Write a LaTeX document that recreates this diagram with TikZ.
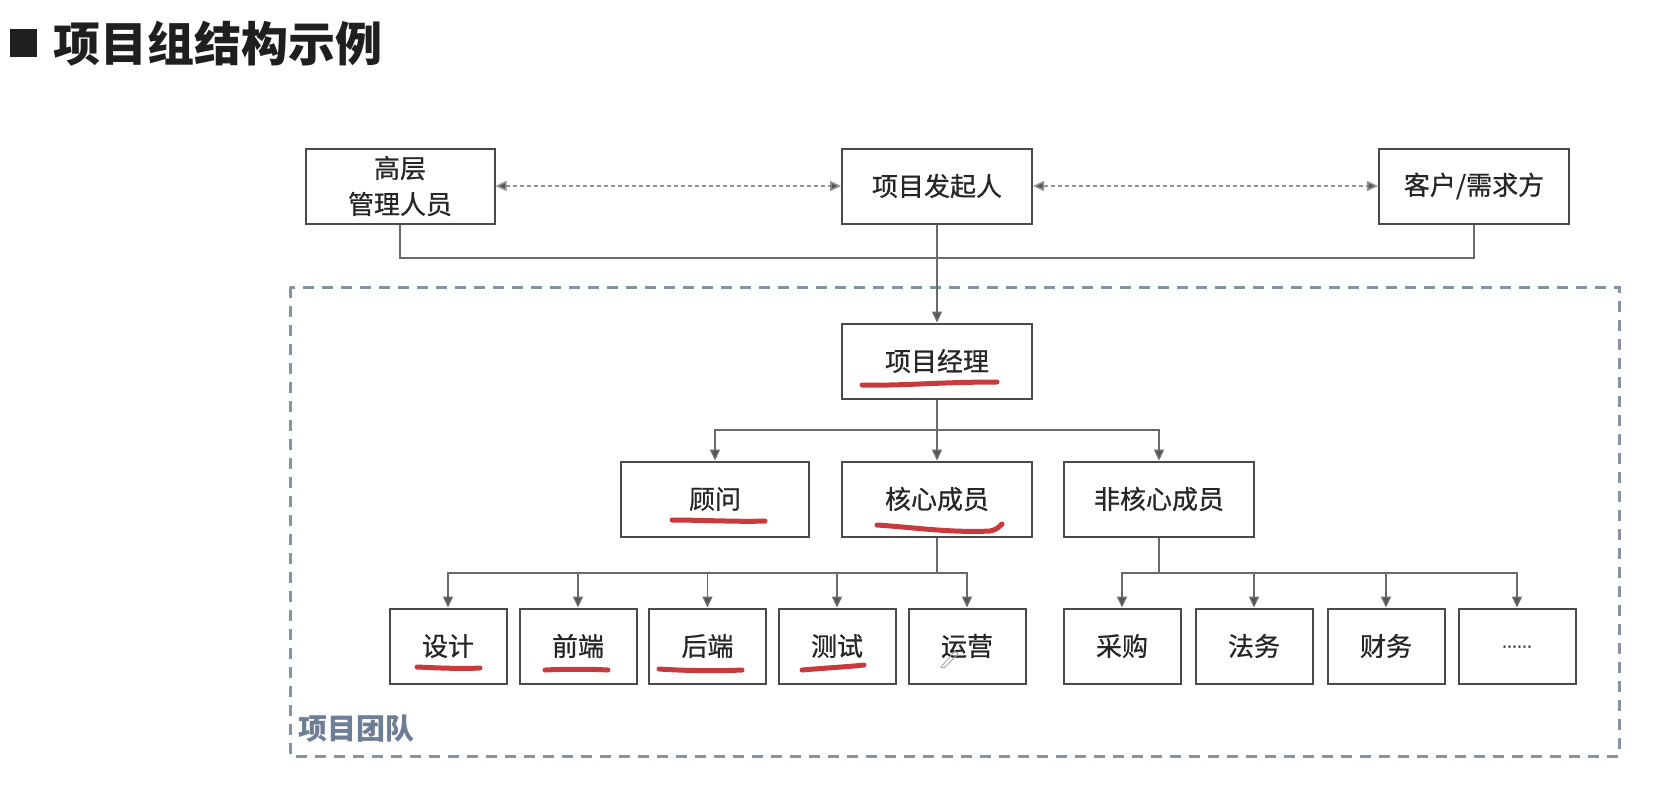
\documentclass[tikz,border=0pt]{standalone}
\usepackage{fontspec}
\setmainfont{Noto Sans CJK SC}
\newfontfamily\boxfont[FakeBold=0.7]{Noto Sans CJK SC}
\newfontfamily\latinf[FakeBold=0.8]{Liberation Sans}
\usetikzlibrary{arrows.meta}
\definecolor{boxline}{HTML}{4A4A4A}
\definecolor{connc}{HTML}{6A6A6A}
\definecolor{tipc}{HTML}{555555}
\definecolor{teamc}{HTML}{8793A5}
\definecolor{teamtext}{HTML}{6E7E96}
\definecolor{redink}{HTML}{C42A2C}
\begin{document}
\begin{tikzpicture}[x=1pt,y=-1pt,
  box/.style={draw=boxline, line width=2pt, fill=white, inner sep=0pt,
    font=\boxfont\fontsize{26}{36}\selectfont, text=black!85, align=center,
    minimum height=75pt},
  bigbox/.style={box, minimum width=190pt},
  smallbox/.style={box, minimum width=117pt},
  connline/.style={draw=connc, line width=1.4pt},
  arr/.style={connline, -{Triangle[length=11pt,width=10pt,fill=tipc]}},
  dotarr/.style={draw=gray!85, line width=1.5pt, dash pattern=on 4pt off 3pt,
    {Triangle[length=11pt,width=10pt,fill=tipc]}-{Triangle[length=11pt,width=10pt,fill=tipc]}},
  ink/.style={draw=redink, line width=5pt, line cap=round, opacity=0.92},
  teambox/.style={draw=teamc, line width=3pt, dash pattern=on 11pt off 8pt}
]
\useasboundingbox[fill=white] (0,0) rectangle (1664,788);

% title
\fill[black!88] (10,29) rectangle (37,57);
\node[anchor=west, inner sep=0pt, font=\bfseries\fontsize{47}{47}\selectfont, text=black!88] (title) at (53,44) {项目组结构示例};

% team frame
\draw[teambox] (290,287) rectangle (1619,756);
\node[anchor=west, inner sep=0pt, font=\bfseries\fontsize{29}{29}\selectfont, text=teamtext] (team) at (298,729) {项目团队};

% top row
\node[bigbox, minimum width=189pt] (gc) at (400,186) {高层\\管理人员};
\node[bigbox] (fq) at (937,186) {项目发起人};
\node[bigbox] (kh) at (1474,186) {客户/需求方};

\draw[dotarr] (gc.east) -- (fq.west);
\draw[dotarr] (fq.east) -- (kh.west);

\coordinate (hub) at (937,258);
\draw[connline] (gc.south) |- (hub) -| (kh.south);

% PM
\node[bigbox] (pm) at (937,361) {项目经理};
\draw[arr] (fq.south) -- (pm.north);

% middle row
\node[bigbox, minimum width=188pt] (gw) at (715,499) {顾问};
\node[bigbox] (hx) at (937,499) {核心成员};
\node[bigbox] (fh) at (1159,499) {非核心成员};

\coordinate (b1) at (937,430);
\draw[connline] (pm.south) -- (b1);
\draw[arr] (b1) -| (gw.north);
\draw[arr] (b1) -| (fh.north);
\draw[arr] (b1) -- (hx.north);

% bottom row core
\node[smallbox] (sj) at (448,646) {设计};
\node[smallbox] (qd) at (578,646) {前端};
\node[smallbox] (hd) at (707.5,646) {后端};
\node[smallbox] (cs) at (837,646) {测试};
\node[smallbox] (yy) at (967,646) {运营};

\coordinate (b2) at (937,573);
\draw[connline] (hx.south) -- (b2);
\foreach \n in {sj,qd,hd,cs,yy} \draw[arr] (b2) -| (\n.north);

% bottom row non-core
\node[smallbox] (cg) at (1122,646) {采购};
\node[smallbox] (fw) at (1254,646) {法务};
\node[smallbox] (cw) at (1386,646) {财务};
\node[smallbox] (more) at (1517,646) {\raisebox{-3pt}{\latinf\fontsize{18}{18}\selectfont ......}};

\coordinate (b3) at (1159,573);
\draw[connline] (fh.south) -- (b3);
\foreach \n in {cg,fw,cw,more} \draw[arr] (b3) -| (\n.north);

% red hand-drawn underlines
\draw[ink] (862,385) .. controls (900,386) and (940,382) .. (997,382);
\draw[ink] (672,520) .. controls (700,520) and (740,522) .. (765,521);
\draw[ink] (877,525) .. controls (910,527) and (950,533) .. (990,531) .. controls (996,530) and (999,527) .. (1002,524);
\draw[ink] (417,667) .. controls (440,668) and (460,669) .. (480,668);
\draw[ink] (545,670) .. controls (565,669) and (590,669) .. (608,670);
\draw[ink] (659,669) .. controls (690,671) and (720,671) .. (742,670);
\draw[ink] (802,670) .. controls (825,668) and (845,667) .. (864,665);

% pen cursor mark
\draw[gray!70, line width=0.8pt] (941,667) -- (955,651) -- (958,654) -- (944,668) -- cycle;
\end{tikzpicture}
\end{document}
